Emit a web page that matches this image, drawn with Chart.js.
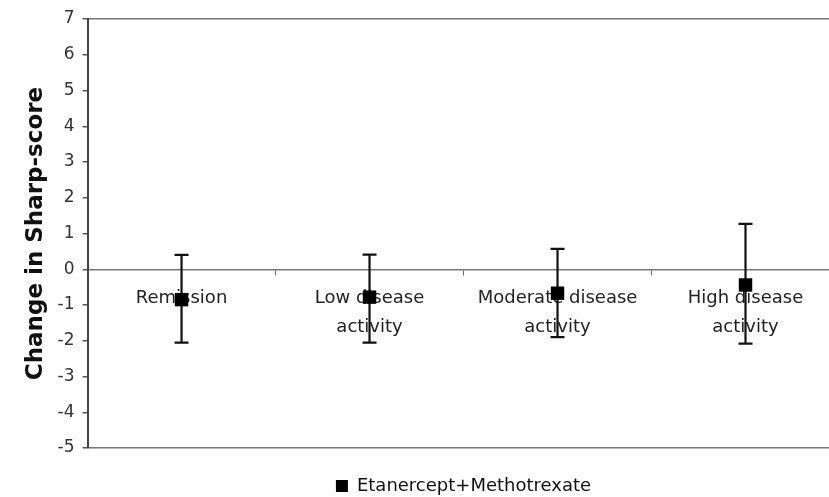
<!DOCTYPE html>
<html>
<head>
<meta charset="utf-8">
<script src="https://cdn.jsdelivr.net/npm/chart.js@4.4.1/dist/chart.umd.min.js"></script>
<style>
  html, body { margin: 0; padding: 0; background: #fff; overflow: hidden; }
  #wrap { width: 849px; height: 505px; }
</style>
</head>
<body>
<div id="wrap"><canvas id="c"></canvas></div>
<script>
// Disease activity groups (two-line labels)
const categories = [
  ['Remission'],
  ['Low disease', 'activity'],
  ['Moderate disease', 'activity'],
  ['High disease', 'activity']
];
// Mean change in Sharp score with lower / upper interval limits
const meanChange = [-0.85, -0.78, -0.67, -0.44];
const lowerLimit = [-2.05, -2.05, -1.9, -2.08];
const upperLimit = [0.4, 0.41, 0.57, 1.27];
const yTicks = [-5, -4, -3, -2, -1, 0, 1, 2, 3, 4, 5, 6, 7];
const seriesName = 'Etanercept+Methotrexate';

const FONT = "'DejaVu Sans', Verdana, sans-serif";

// Whiskers drawn beneath the square markers
const errorBars = {
  id: 'errorBars',
  beforeDatasetsDraw(chart) {
    const { ctx, scales: { x, y } } = chart;
    ctx.save();
    ctx.strokeStyle = '#111';
    ctx.lineWidth = 2.2;
    meanChange.forEach((m, i) => {
      const px = x.getPixelForValue(i);
      const yl = y.getPixelForValue(lowerLimit[i]);
      const yu = y.getPixelForValue(upperLimit[i]);
      ctx.beginPath();
      ctx.moveTo(px, yl); ctx.lineTo(px, yu);
      ctx.moveTo(px - 7, yl); ctx.lineTo(px + 7, yl);
      ctx.moveTo(px - 7, yu); ctx.lineTo(px + 7, yu);
      ctx.stroke();
    });
    ctx.restore();
  }
};

new Chart(document.getElementById('c'), {
  type: 'line',
  data: {
    labels: categories,
    datasets: [{
      label: seriesName,
      data: meanChange,
      showLine: false,
      pointStyle: 'rect',
      pointRadius: 9.5,
      pointHoverRadius: 9.5,
      backgroundColor: '#000',
      borderColor: '#000',
      pointBorderWidth: 0
    }]
  },
  options: {
    responsive: true,
    maintainAspectRatio: false,
    animation: false,
    events: [],
    layout: { padding: { top: 19, right: 1, left: 22, bottom: 0 } },
    plugins: {
      tooltip: { enabled: false },
      legend: {
        position: 'bottom',
        fullSize: false,
        labels: {
          usePointStyle: true,
          pointStyle: 'rect',
          boxWidth: 12,
          boxHeight: 12,
          color: '#111',
          font: { family: FONT, size: 18 },
          padding: 29
        }
      }
    },
    scales: {
      x: {
        type: 'category',
        position: { y: 0 },
        offset: true,
        grid: {
          offset: true,
          drawOnChartArea: false,
          drawTicks: true,
          tickLength: 5,
          tickColor: '#666'
        },
        border: { display: true, color: '#777', width: 1.5, dash: [7, 3, 2, 3] },
        ticks: {
          color: '#222',
          font: { family: FONT, size: 18, lineHeight: 1.6 },
          padding: 10,
          maxRotation: 0,
          autoSkip: false
        }
      },
      y: {
        min: -5,
        max: 7,
        afterBuildTicks(scale) { scale.ticks = yTicks.map(v => ({ value: v })); },
        grid: {
          drawTicks: true,
          tickLength: 5,
          tickColor: '#555',
          lineWidth: 1.5,
          color: ctx => (ctx.tick && (ctx.tick.value === 7 || ctx.tick.value === -5)) ? '#777' : 'rgba(0,0,0,0)'
        },
        border: { display: true, color: '#444', width: 2 },
        ticks: {
          color: '#333',
          font: { family: FONT, size: 17 },
          padding: 8
        },
        title: {
          display: true,
          text: 'Change in Sharp-score',
          color: '#111',
          font: { family: FONT, size: 23, weight: 'bold' },
          padding: { top: 0, bottom: 0 }
        }
      }
    }
  },
  plugins: [errorBars]
});
</script>
</body>
</html>
